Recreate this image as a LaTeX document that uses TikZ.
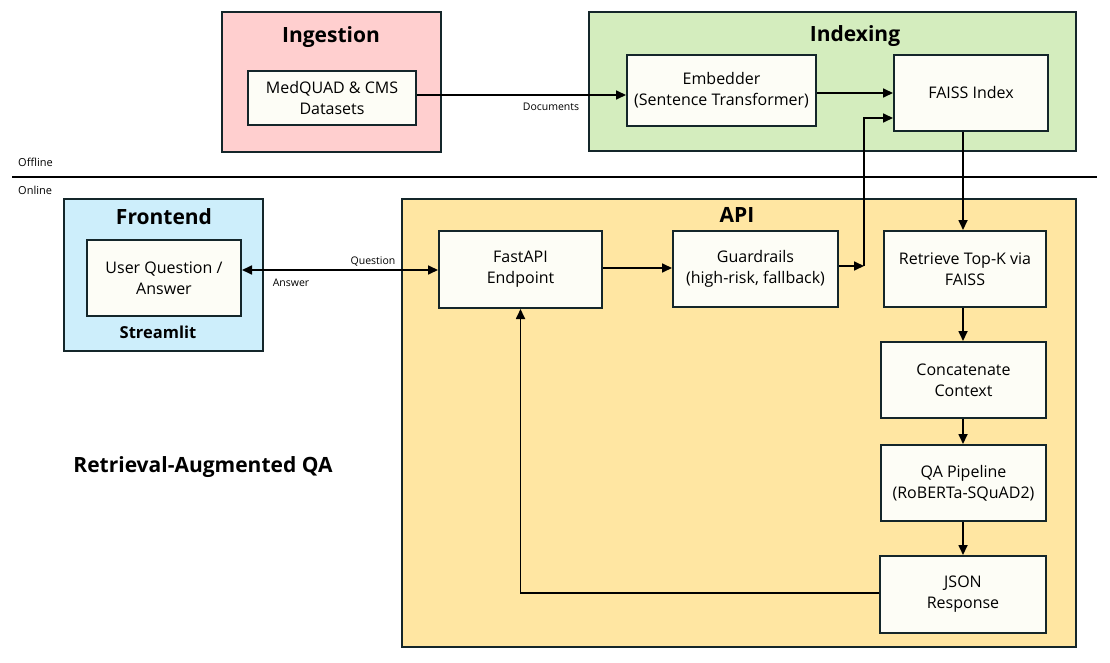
\documentclass[tikz,border=0pt]{standalone}
\usepackage{fontspec}
\setmainfont{Open Sans}
\usetikzlibrary{arrows.meta}
\definecolor{edge}{HTML}{14262A}
\definecolor{ingfill}{HTML}{FFCFCF}
\definecolor{idxfill}{HTML}{D4EDBE}
\definecolor{fefill}{HTML}{CDEEFB}
\definecolor{apifill}{HTML}{FFE6A2}
\definecolor{boxfill}{HTML}{FDFDF6}
\tikzset{
  group/.style={draw=edge, line width=2pt, rectangle, inner sep=0pt},
  inbox/.style={draw=edge, line width=2pt, rectangle, fill=boxfill, align=center,
     font=\fontsize{16}{21}\selectfont, inner sep=0pt},
  gtitle/.style={font=\fontsize{21}{24}\selectfont\bfseries, inner sep=0pt},
  small/.style={font=\fontsize{10.5}{12}\selectfont, inner sep=0pt},
  arr/.style={-{Triangle[length=10pt,width=9pt]}, line width=1.7pt, draw=black},
  arrtwo/.style={{Triangle[length=10pt,width=9pt]}-{Triangle[length=10pt,width=9pt]}, line width=1.7pt, draw=black}
}
\begin{document}
\begin{tikzpicture}[x=1pt,y=-1pt]
\useasboundingbox (0,0) rectangle (1110,663);
\fill[white] (0,0) rectangle (1110,663);
% groups
\node[group, fill=ingfill, minimum width=219, minimum height=140] (ing) at (331.5,82) {};
\node[group, fill=idxfill, minimum width=487, minimum height=139] (idx) at (832.5,81.5) {};
\node[group, fill=fefill, minimum width=199, minimum height=152] (fe) at (163.5,275) {};
\node[group, fill=apifill, minimum width=674, minimum height=448] (api) at (739,423) {};
% titles
\node[gtitle] (tIng) at (331,37) {Ingestion};
\node[gtitle] (tIdx) at (855,36) {Indexing};
\node[gtitle] (tFe) at (164,217) {Frontend};
\node[font=\fontsize{16.5}{19}\selectfont\bfseries, inner sep=0pt] (tSt) at (158,332) {Streamlit};
\node[gtitle] (tApi) at (737,215) {API};
\node[gtitle] (tRag) at (203,467) {Retrieval-Augmented QA};
% inner boxes
\node[inbox, minimum width=168, minimum height=54] (med) at (332,98) {MedQUAD \& CMS\\Datasets};
\node[inbox, minimum width=189, minimum height=71] (emb) at (721.5,90.5) {Embedder\\(Sentence Transformer)};
\node[inbox, minimum width=154, minimum height=76] (faiss) at (971,93) {FAISS Index};
\node[inbox, minimum width=154, minimum height=76] (uq) at (164,278) {User Question /\\Answer};
\node[inbox, minimum width=163, minimum height=77] (fast) at (520.5,269.5) {FastAPI\\Endpoint};
\node[inbox, minimum width=165, minimum height=76] (guard) at (755.5,269) {Guardrails\\(high-risk, fallback)};
\node[inbox, minimum width=162, minimum height=76] (ret) at (965,269) {Retrieve Top-K via\\FAISS};
\node[inbox, minimum width=165, minimum height=76] (cat) at (963.5,380) {Concatenate\\Context};
\node[inbox, minimum width=165, minimum height=76] (qa) at (963.5,483) {QA Pipeline\\(RoBERTa-SQuAD2)};
\node[inbox, minimum width=166, minimum height=77] (json) at (963,594.5) {JSON\\Response};
% offline / online divider
\coordinate (dl) at (12,177);
\coordinate (dr) at (1097,177);
\draw[line width=1.8pt, black] (dl) -- (dr);
\node[small, font=\fontsize{11}{12}\selectfont, anchor=west] (off) at (18,162) {Offline};
\node[small, font=\fontsize{11}{12}\selectfont, anchor=west] (on) at (18,190) {Online};
% connectors
\draw[arr] (med.east |- 0,95) -- (emb.west |- 0,95);
\node[small] (ldoc) at (551,107) {Documents};
\draw[arr] (emb.east |- 0,93) -- (faiss.west |- 0,93);
\coordinate (gc) at (864,266);
\draw[arr] (guard.east |- gc) -- (gc);
\draw[arr] (gc) |- (faiss.west |- 0,118);
\coordinate (fx) at (963,0);
\draw[arr] (faiss.south -| fx) -- (ret.north -| fx);
\draw[arr] (ret.south -| fx) -- (cat.north -| fx);
\draw[arr] (cat.south -| fx) -- (qa.north -| fx);
\draw[arr] (qa.south -| fx) -- (json.north -| fx);
\draw[arr] (json.west |- 0,593) -| (fast.south);
\draw[arrtwo] (uq.east |- 0,270) -- (fast.west |- 0,270);
\node[small] (lq) at (373,262) {Question};
\node[small] (la) at (291,283) {Answer};
\draw[arr] (fast.east |- 0,268) -- (guard.west |- 0,268);
\end{tikzpicture}
\end{document}
